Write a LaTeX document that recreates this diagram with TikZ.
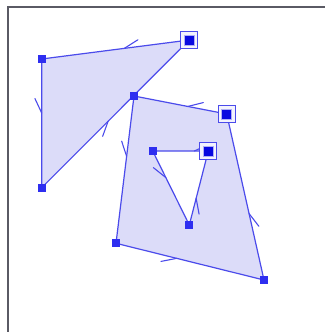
\documentclass[tikz,border=0pt]{standalone}
\usetikzlibrary{calc}
\definecolor{Edge}   {HTML}{4B4BEB}
\definecolor{Face}   {HTML}{DCDCF9}
\definecolor{Knob}   {HTML}{2E2EF0}
\definecolor{SelKnob}{HTML}{0808E0}
\definecolor{Frame}  {HTML}{5A5A64}
\tikzset{
  face/.style={
    fill=Face, draw=Edge, line width=1.2pt,
    even odd rule, line join=round,
  },
  vtx/.style={
    rectangle, fill=Knob, inner sep=0pt, minimum size=8pt,
  },
  selbox/.style={
    rectangle, draw=Edge, fill=Face!35, line width=1pt,
    inner sep=0pt, minimum size=17pt,
  },
  selvtx/.style={
    rectangle, fill=SelKnob, draw=Edge!45, line width=1pt,
    inner sep=0pt, minimum size=10pt,
  },
  tick/.style={
    draw=Edge, line width=1.1pt, line cap=round,
  },
  frm/.style={
    draw=Frame, line width=2pt,
  },
}
% direction barb: from, to, position
\newcommand{\dirtick}[4][16pt]{%
  \draw[tick] ($(#2)!#4!(#3)$) coordinate (tk) -- ($(tk)!#1!25:(#2)$);}

\begin{document}
\begin{tikzpicture}[x=1pt,y=-1pt]
  \useasboundingbox (0,0) rectangle (324,332);
  \draw[frm] (8,333) -- (8,7) -- (325,7);

  % vertices
  \coordinate (A) at (41.7,59);
  \coordinate (B) at (189.3,40);
  \coordinate (C) at (41.7,187.7);
  \coordinate (D) at (134,96);
  \coordinate (E) at (226.7,114);
  \coordinate (F) at (264,280);
  \coordinate (G) at (116,243.3);
  \coordinate (H) at (152.7,151);
  \coordinate (I) at (208.3,151);
  \coordinate (J) at (189.3,225);

  % faces
  \filldraw[face] (B) -- (A) -- (C) -- cycle;
  \filldraw[face] (E) -- (D) -- (G) -- (F) -- cycle
                  (I) -- (H) -- (J) -- cycle;

  % direction barbs
  \dirtick{B}{A}{0.44}
  \dirtick{A}{C}{0.42}
  \dirtick{C}{B}{0.45}
  \dirtick{E}{D}{0.42}
  \dirtick{D}{G}{0.41}
  \dirtick{G}{F}{0.41}
  \dirtick{F}{E}{0.40}
  \dirtick[12pt]{I}{H}{0.25}
  \dirtick{H}{J}{0.36}
  \dirtick{J}{I}{0.36}

  % handles
  \foreach \v in {A,C,D,G,F,H,J}
    \node[vtx] (\v k) at (\v) {};
  \foreach \v in {B,E,I} {
    \node[selbox] (\v b) at (\v) {};
    \node[selvtx] (\v k) at (\v) {};
  }
\end{tikzpicture}
\end{document}
